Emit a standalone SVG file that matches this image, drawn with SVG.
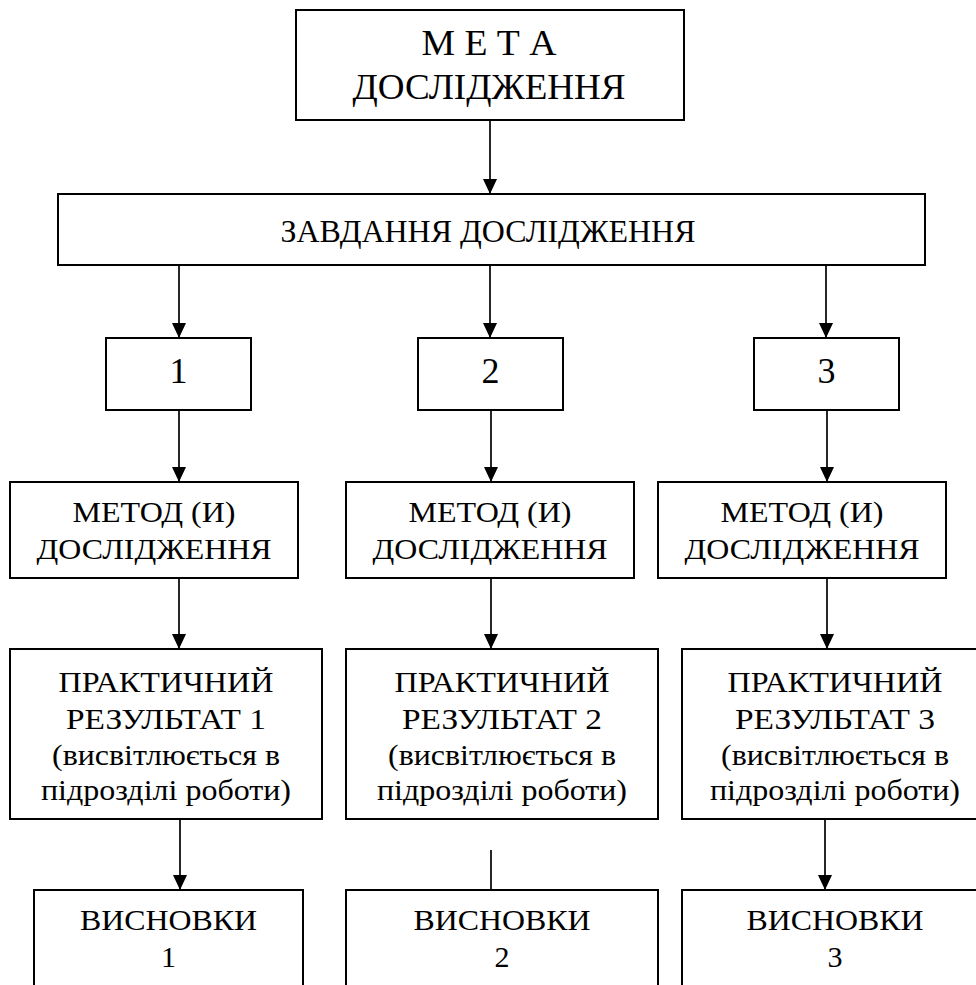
<svg xmlns="http://www.w3.org/2000/svg" width="976" height="985" viewBox="0 0 976 985">
<defs>
<marker id="arr" markerUnits="userSpaceOnUse" markerWidth="15" markerHeight="14" refX="15" refY="7" orient="auto">
<path d="M0,0 L15,7 L0,14 z" fill="#000"/>
</marker>
<style>
.box{fill:#fff;stroke:#000;stroke-width:2}
.t{font-family:"Liberation Serif","Times New Roman",serif;fill:#000;text-anchor:middle}
.f29{font-size:29px}
.f30{font-size:30px}
.f31{font-size:31px}
.f35{font-size:35px}
.f36{font-size:36px}
.c{stroke:#000;stroke-width:1.7;fill:none}
</style>
</defs>
<rect width="976" height="985" fill="#fff"/>
<g id="connectors">
<line class="c" x1="490" y1="120" x2="490" y2="194" marker-end="url(#arr)"/>
<line class="c" x1="179" y1="265" x2="179" y2="338" marker-end="url(#arr)"/>
<line class="c" x1="490" y1="265" x2="490" y2="338" marker-end="url(#arr)"/>
<line class="c" x1="826" y1="265" x2="826" y2="338" marker-end="url(#arr)"/>
<line class="c" x1="179" y1="410" x2="179" y2="482" marker-end="url(#arr)"/>
<line class="c" x1="491" y1="410" x2="491" y2="482" marker-end="url(#arr)"/>
<line class="c" x1="827" y1="410" x2="827" y2="482" marker-end="url(#arr)"/>
<line class="c" x1="179" y1="578" x2="179" y2="649" marker-end="url(#arr)"/>
<line class="c" x1="491" y1="578" x2="491" y2="649" marker-end="url(#arr)"/>
<line class="c" x1="827" y1="578" x2="827" y2="649" marker-end="url(#arr)"/>
<line class="c" x1="180" y1="819" x2="180" y2="890" marker-end="url(#arr)"/>
<line class="c" x1="491" y1="850" x2="491" y2="890"/>
<line class="c" x1="825" y1="819" x2="825" y2="890" marker-end="url(#arr)"/>
</g>
<g id="meta">
<rect class="box" x="296" y="10" width="388" height="110"/>
<text class="t f35" x="489" y="55" textLength="135" lengthAdjust="spacingAndGlyphs">М Е Т А</text>
<text class="t f35" x="489" y="99" textLength="273" lengthAdjust="spacingAndGlyphs">ДОСЛІДЖЕННЯ</text>
</g>
<g id="zavdannia">
<rect class="box" x="58" y="194" width="867" height="71"/>
<text class="t f31" x="488" y="242" textLength="415" lengthAdjust="spacingAndGlyphs">ЗАВДАННЯ ДОСЛІДЖЕННЯ</text>
</g>
<g id="task1">
<rect class="box" x="106" y="338" width="145" height="72"/>
<text class="t f36" x="178.5" y="383">1</text>
</g>
<g id="task2">
<rect class="box" x="418" y="338" width="145" height="72"/>
<text class="t f36" x="490.5" y="383">2</text>
</g>
<g id="task3">
<rect class="box" x="754" y="338" width="145" height="72"/>
<text class="t f36" x="826.5" y="383">3</text>
</g>
<g id="method1">
<rect class="box" x="10" y="482" width="288" height="96"/>
<text class="t f29" x="154" y="522" textLength="163" lengthAdjust="spacingAndGlyphs">МЕТОД (И)</text>
<text class="t f29" x="154" y="559" textLength="235" lengthAdjust="spacingAndGlyphs">ДОСЛІДЖЕННЯ</text>
</g>
<g id="method2">
<rect class="box" x="346" y="482" width="288" height="96"/>
<text class="t f29" x="490" y="522" textLength="163" lengthAdjust="spacingAndGlyphs">МЕТОД (И)</text>
<text class="t f29" x="490" y="559" textLength="235" lengthAdjust="spacingAndGlyphs">ДОСЛІДЖЕННЯ</text>
</g>
<g id="method3">
<rect class="box" x="658" y="482" width="288" height="96"/>
<text class="t f29" x="802" y="522" textLength="163" lengthAdjust="spacingAndGlyphs">МЕТОД (И)</text>
<text class="t f29" x="802" y="559" textLength="235" lengthAdjust="spacingAndGlyphs">ДОСЛІДЖЕННЯ</text>
</g>
<g id="result1">
<rect class="box" x="10" y="649" width="312" height="170"/>
<text class="t f29" x="166" y="692" textLength="215" lengthAdjust="spacingAndGlyphs">ПРАКТИЧНИЙ</text>
<text class="t f29" x="166" y="729" textLength="200" lengthAdjust="spacingAndGlyphs">РЕЗУЛЬТАТ 1</text>
<text class="t f29" x="166" y="765" textLength="228" lengthAdjust="spacingAndGlyphs">(висвітлюється в</text>
<text class="t f29" x="166" y="800" textLength="250" lengthAdjust="spacingAndGlyphs">підрозділі роботи)</text>
</g>
<g id="result2">
<rect class="box" x="346" y="649" width="312" height="170"/>
<text class="t f29" x="502" y="692" textLength="215" lengthAdjust="spacingAndGlyphs">ПРАКТИЧНИЙ</text>
<text class="t f29" x="502" y="729" textLength="200" lengthAdjust="spacingAndGlyphs">РЕЗУЛЬТАТ 2</text>
<text class="t f29" x="502" y="765" textLength="228" lengthAdjust="spacingAndGlyphs">(висвітлюється в</text>
<text class="t f29" x="502" y="800" textLength="250" lengthAdjust="spacingAndGlyphs">підрозділі роботи)</text>
</g>
<g id="result3">
<rect class="box" x="682" y="649" width="312" height="170"/>
<text class="t f29" x="835" y="692" textLength="215" lengthAdjust="spacingAndGlyphs">ПРАКТИЧНИЙ</text>
<text class="t f29" x="835" y="729" textLength="200" lengthAdjust="spacingAndGlyphs">РЕЗУЛЬТАТ 3</text>
<text class="t f29" x="835" y="765" textLength="228" lengthAdjust="spacingAndGlyphs">(висвітлюється в</text>
<text class="t f29" x="835" y="800" textLength="250" lengthAdjust="spacingAndGlyphs">підрозділі роботи)</text>
</g>
<g id="conclusions1">
<rect class="box" x="34" y="890" width="269" height="120"/>
<text class="t f29" x="168.5" y="930" textLength="177" lengthAdjust="spacingAndGlyphs">ВИСНОВКИ</text>
<text class="t f30" x="168.5" y="967">1</text>
</g>
<g id="conclusions2">
<rect class="box" x="346" y="890" width="312" height="120"/>
<text class="t f29" x="502" y="930" textLength="177" lengthAdjust="spacingAndGlyphs">ВИСНОВКИ</text>
<text class="t f30" x="502" y="967">2</text>
</g>
<g id="conclusions3">
<rect class="box" x="682" y="890" width="306" height="120"/>
<text class="t f29" x="835" y="930" textLength="177" lengthAdjust="spacingAndGlyphs">ВИСНОВКИ</text>
<text class="t f30" x="835" y="967">3</text>
</g>
</svg>
